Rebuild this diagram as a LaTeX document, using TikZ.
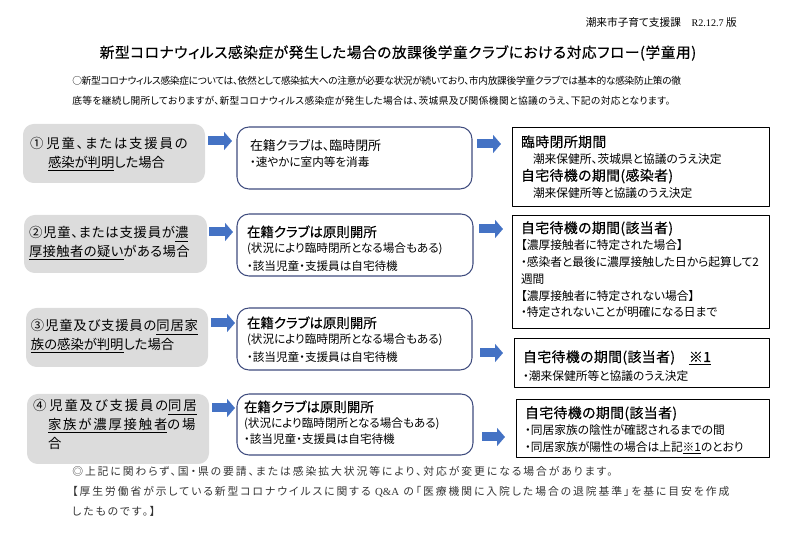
\documentclass[tikz,border=0pt]{standalone}
\usepackage{fontspec}
\setmainfont[RawFeature=+palt]{Noto Sans CJK JP}
\newfontfamily\headcjk[FakeBold=.35,RawFeature=+palt]{Noto Sans CJK JP}
\newfontfamily\latinserif{Liberation Serif}
\usetikzlibrary{arrows.meta}
\newdimen\pix \pix=.75pt
\newcommand\acthead[1]{{\headcjk\fontsize{10.1}{9.7}\selectfont #1}}
\newcommand\reshead[1]{{\headcjk\fontsize{10.4}{10.4}\selectfont\addfontfeature{LetterSpace=3} #1}}
\definecolor{casegray}{HTML}{DCDCDC}
\definecolor{arrowblue}{HTML}{4472C4}
\definecolor{actblue}{HTML}{3F4C7E}
\tikzset{
  anybox/.style={anchor=north west, inner ysep=0pt, outer sep=0pt, align=left},
  casebox/.style={anybox, fill=casegray, rounded corners=8pt, inner xsep=5\pix,
    font=\fontsize{10}{13.9}\selectfont},
  actbox/.style={anybox, draw=actblue, line width=.8pt, rounded corners=9pt, inner xsep=10\pix,
    font=\fontsize{8.7}{11.3}\selectfont},
  resbox/.style={anybox, draw=black, line width=.75pt, inner xsep=9\pix,
    font=\fontsize{8.8}{12.6}\selectfont},
  flowarrow/.style={draw=arrowblue, line width=6.75pt, line cap=butt,
    -{Triangle[length=6pt,width=13.5pt]}},
}
\begin{document}
\begin{tikzpicture}[x=.75pt, y=-.75pt, line join=round]
\useasboundingbox (0,0) rectangle (800,534);
% heading
\node[anchor=east, inner sep=0pt, font=\fontsize{8}{9}\selectfont] (office) at (737,22) {潮来市子育て支援課\hspace{1em}{\latinserif\fontsize{7.6}{9}\selectfont R2.12.7} 版};
\node[font=\headcjk\fontsize{11}{12}\selectfont\addfontfeature{LetterSpace=4}] (title) at (398,53) {新型コロナウィルス感染症が発生した場合の放課後学童クラブにおける対応フロー(学童用)};
\node[anchor=north west, inner sep=0pt, align=left, font=\fontsize{7.3}{15}\selectfont] (intro) at (72,75.5)
  {{\addfontfeature{LetterSpace=-3.2}○新型コロナウィルス感染症については、依然として感染拡大への注意が必要な状況が続いており、市内放課後学童クラブでは基本的な感染防止策の徹}\\
   {\addfontfeature{LetterSpace=3.7}底等を継続し開所しておりますが、新型コロナウィルス感染症が発生した場合は、茨城県及び関係機関と協議のうえ、下記の対応となります。}};
% left column
\node[casebox, text width=172\pix, text height=25\pix, text depth=34\pix] (case1) at (23,124)
  {\hspace{2\pix}①\hspace{3\pix}{\addfontfeature{LetterSpace=14}児童、または支援員の}\\
   \hspace{20\pix}\underline{感染が判明}した場合};
\node[casebox, text width=173\pix, text height=23\pix, text depth=35\pix] (case2) at (24,215)
  {{\addfontfeature{LetterSpace=6}②児童、または支援員が\underline{濃}}\\
   {\addfontfeature{LetterSpace=3}\underline{厚接触者の疑い}がある場合}};
\node[casebox, text width=172\pix, text height=23\pix, text depth=36\pix] (case3) at (26,308)
  {{\addfontfeature{LetterSpace=6}③児童及び支援員の\underline{同居家}}\\
   \underline{族の感染が判明}した場合};
\node[casebox, text width=172\pix, text height=17\pix, text depth=53\pix] (case4) at (27,394)
  {\hspace{1\pix}④\hspace{3\pix}{\addfontfeature{LetterSpace=14}児童及び支援員の\underline{同居}}\\
   \hspace{16\pix}{\addfontfeature{LetterSpace=14}\underline{家族が濃厚接触者}の場}\\
   \hspace{16\pix}合};
% middle column
\node[actbox, text width=215\pix, text height=24\pix, text depth=38\pix] (act1) at (237,127)
  {\hspace{3\pix}{\fontsize{9.7}{9.7}\selectfont 在籍クラブは、臨時閉所}\\
   \hspace{3\pix}・速やかに室内等を消毒};
\node[actbox, text width=216\pix, text height=23\pix, text depth=39\pix] (act2) at (237,214)
  {\acthead{在籍クラブは原則開所}\\
   (状況により臨時閉所となる場合もある)\\[2.2pt]
   ・該当児童・支援員は自宅待機};
\node[actbox, text width=215\pix, text height=20\pix, text depth=42\pix] (act3) at (237,308)
  {\acthead{在籍クラブは原則開所}\\
   (状況により臨時閉所となる場合もある)\\[2.2pt]
   ・該当児童・支援員は自宅待機};
\node[actbox, inner xsep=7\pix, text width=222\pix, text height=18\pix, text depth=43\pix] (act4) at (237,394)
  {\acthead{在籍クラブは原則開所}\\
   (状況により臨時閉所となる場合もある)\\[.8pt]
   ・該当児童・支援員は自宅待機};
% right column
\node[resbox, text width=239\pix, text height=19\pix, text depth=60\pix] (res1) at (512,128)
  {\reshead{臨時閉所期間}\\
   \hspace{12\pix}潮来保健所、茨城県と協議のうえ決定\\
   \reshead{自宅待機の期間(感染者)}\\
   \hspace{12\pix}潮来保健所等と協議のうえ決定};
\node[resbox, text width=239\pix, text height=17\pix, text depth=96\pix] (res2) at (512,216)
  {\reshead{自宅待機の期間(該当者)}\\
   【濃厚接触者に特定された場合】\\
   ・感染者と最後に濃厚接触した日から起算して2\\
   週間\\
   【濃厚接触者に特定されない場合】\\
   ・特定されないことが明確になる日まで};
\node[resbox, text width=237\pix, text height=23\pix, text depth=26\pix] (res3) at (514,339)
  {\reshead{自宅待機の期間(該当者)\hspace{1em}\underline{※1}}\\[1.6pt]
   ・潮来保健所等と協議のうえ決定};
\node[resbox, text width=235\pix, text height=18\pix, text depth=40\pix] (res4) at (516,400)
  {\reshead{自宅待機の期間(該当者)}\\
   ・同居家族の陰性が確認されるまでの間\\
   ・同居家族が陽性の場合は上記\underline{※1}のとおり};
% arrows
\coordinate (a1) at (0,141);
\coordinate (a2) at (0,232);
\coordinate (a3) at (0,323);
\coordinate (a4) at (0,408);
\coordinate (r1) at (0,144);
\coordinate (r2) at (0,229);
\coordinate (r3) at (0,353);
\coordinate (r4) at (0,437);
\draw[flowarrow, shorten <=3\pix, shorten >=5\pix] (case1.east |- a1) -- (act1.west |- a1);
\draw[flowarrow, shorten <=2\pix, shorten >=4\pix] (case2.east |- a2) -- (act2.west |- a2);
\draw[flowarrow, shorten <=3\pix, shorten >=2\pix] (case3.east |- a3) -- (act3.west |- a3);
\draw[flowarrow, shorten <=3\pix, shorten >=2\pix] (case4.east |- a4) -- (act4.west |- a4);
\draw[flowarrow, shorten <=5\pix, shorten >=11\pix] (act1.east |- r1) -- (res1.west |- r1);
\draw[flowarrow, shorten <=6\pix, shorten >=9\pix] (act2.east |- r2) -- (res2.west |- r2);
\draw[flowarrow, shorten <=8\pix, shorten >=11\pix] (act3.east |- r3) -- (res3.west |- r3);
\draw[flowarrow, shorten <=9\pix, shorten >=11\pix] (act4.east |- r4) -- (res4.west |- r4);
% closing note
\node[anchor=north west, inner sep=0pt, align=left, text=black!80, font=\fontsize{8.1}{15}\selectfont\addfontfeature{LetterSpace=18}] (note) at (72,466)
  {◎上記に関わらず、国・県の要請、または感染拡大状況等により、対応が変更になる場合があります。\\
   【厚生労働省が示している新型コロナウイルスに関する {\latinserif Q\&A} の「医療機関に入院した場合の退院基準」を基に目安を作成\\
   したものです。】};
\end{tikzpicture}
\end{document}
